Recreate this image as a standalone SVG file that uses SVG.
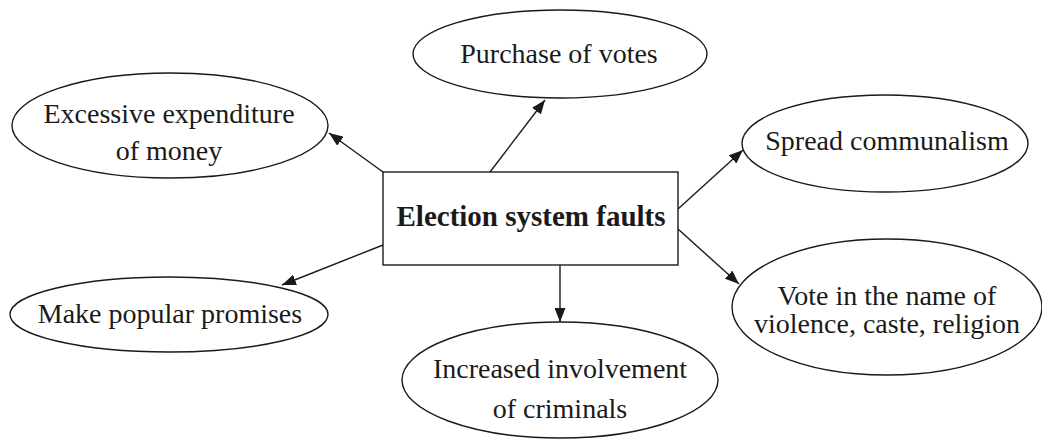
<svg xmlns="http://www.w3.org/2000/svg" width="1042" height="444" viewBox="0 0 1042 444">
<defs>
<style>
.n{fill:#fff;stroke:#1a1a1a;stroke-width:1.4}
.t{font-family:"Liberation Serif","Times New Roman",serif;font-size:28px;fill:#1a1a1a;text-anchor:middle}
.b{font-weight:bold;font-size:29px}
.c{stroke:#1a1a1a;stroke-width:1.4;fill:none;marker-end:url(#ah)}
</style>
<marker id="ah" viewBox="0 0 14 11" refX="14" refY="5.5" markerWidth="14" markerHeight="11" markerUnits="userSpaceOnUse" orient="auto">
<path d="M0,0 L14,5.5 L0,11 Z" fill="#1a1a1a"/>
</marker>
</defs>
<rect width="1042" height="444" fill="#fff"/>
<g id="connectors">
<line class="c" x1="383" y1="172" x2="329" y2="133"/>
<line class="c" x1="490" y1="172" x2="545" y2="100"/>
<line class="c" x1="678" y1="209" x2="743" y2="150"/>
<line class="c" x1="383" y1="245" x2="282" y2="285"/>
<line class="c" x1="560" y1="265" x2="560" y2="322"/>
<line class="c" x1="678" y1="229" x2="739" y2="284"/>
</g>
<g id="center">
<rect class="n" x="383" y="172" width="295" height="93"/>
<text class="t b" x="531" y="226">Election system faults</text>
</g>
<g id="expenditure">
<ellipse class="n" cx="170" cy="125.5" rx="158" ry="52.5"/>
<text class="t" x="169" y="123">Excessive expenditure</text>
<text class="t" x="169" y="160">of money</text>
</g>
<g id="purchase">
<ellipse class="n" cx="560" cy="54" rx="147" ry="44"/>
<text class="t" x="559" y="63">Purchase of votes</text>
</g>
<g id="communalism">
<ellipse class="n" cx="885" cy="143.5" rx="143" ry="48.5"/>
<text class="t" x="887" y="150">Spread communalism</text>
</g>
<g id="promises">
<ellipse class="n" cx="169" cy="314.5" rx="159" ry="37.5"/>
<text class="t" x="170" y="323">Make popular promises</text>
</g>
<g id="criminals">
<ellipse class="n" cx="560" cy="380" rx="158" ry="58"/>
<text class="t" x="560" y="378">Increased involvement</text>
<text class="t" x="560" y="418">of criminals</text>
</g>
<g id="vote">
<ellipse class="n" cx="887" cy="307" rx="155" ry="68"/>
<text class="t" x="887" y="305">Vote in the name of</text>
<text class="t" x="887" y="333">violence, caste, religion</text>
</g>
</svg>
